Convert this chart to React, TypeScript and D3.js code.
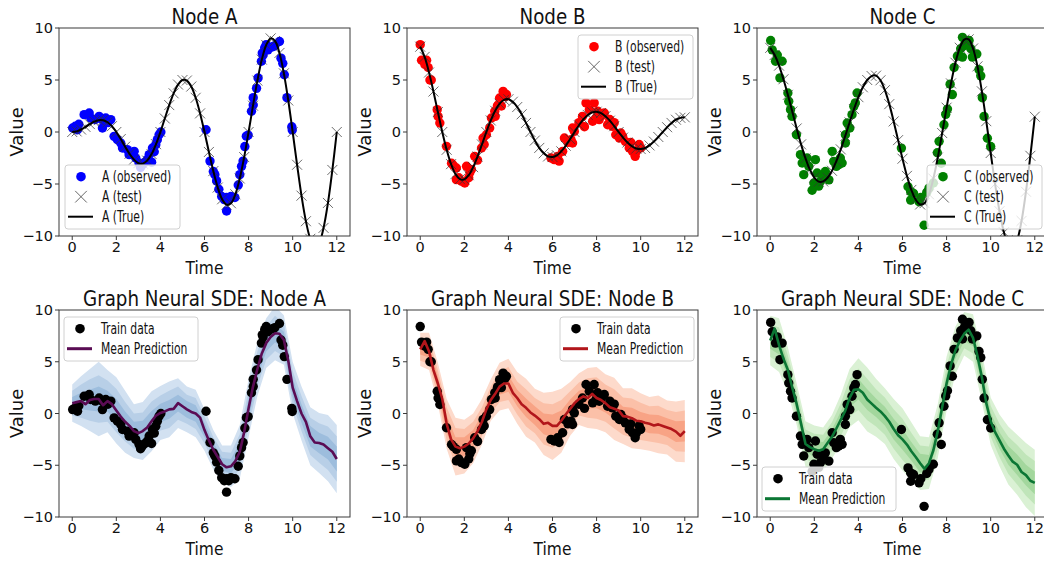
import * as d3 from "d3";

// ---- tick labels / grids ----
const xTicks = [0, 2, 4, 6, 8, 10, 12];
const yTicks = [-10, -5, 0, 5, 10];
const gridTimes = d3.range(0, 12.001, 0.2); // test / prediction grid
const bandTimes = d3.range(0, 12.001, 0.4); // quantile band grid

// ---- true trajectories (read at t = 0, 0.2, ... 12) ----
const trueA = [0, 0.06, 0.24, 0.49, 0.76, 1.0, 1.14, 1.13, 0.94, 0.56, 0, -0.68, -1.41, -2.1, -2.66, -3.0, -3.04, -2.75, -2.12, -1.17, 0, 1.3, 2.59, 3.72, 4.56, 5.0, 4.95, 4.37, 3.29, 1.79, 0, -1.92, -3.76, -5.34, -6.47, -7.0, -6.85, -5.99, -4.47, -2.41, 0, 2.53, 4.94, 6.96, 8.37, 9.0, 8.75, 7.6, 5.64, 3.03, 0, -3.15, -6.12, -8.58, -10.27, -11.0, -10.65, -9.22, -6.82, -3.65, 0];
const trueB = [8.2, 7.22, 5.72, 3.89, 1.92, 0, -1.71, -3.09, -4.05, -4.53, -4.56, -4.15, -3.38, -2.36, -1.2, 0, 1.11, 2.04, 2.72, 3.09, 3.15, 2.91, 2.4, 1.7, 0.87, 0, -0.82, -1.53, -2.05, -2.35, -2.41, -2.24, -1.86, -1.32, -0.68, 0, 0.65, 1.22, 1.64, 1.89, 1.95, 1.82, 1.52, 1.09, 0.56, 0, -0.54, -1.01, -1.37, -1.59, -1.64, -1.54, -1.29, -0.92, -0.48, 0, 0.46, 0.87, 1.18, 1.36, 1.41];
const trueC = [8.09, 7.4, 6.38, 5.07, 3.57, 1.96, 0.34, -1.19, -2.53, -3.62, -4.38, -4.77, -4.75, -4.4, -3.73, -2.8, -1.67, -0.4, 0.92, 2.2, 3.35, 4.3, 5.0, 5.38, 5.42, 4.97, 4.02, 2.68, 1.02, -0.78, -2.57, -4.22, -5.57, -6.51, -6.97, -6.84, -5.99, -4.48, -2.46, -0.1, 2.34, 4.67, 6.66, 8.1, 8.89, 8.91, 8.03, 6.31, 3.91, 1.04, -2.02, -5.0, -7.61, -9.64, -10.88, -11.19, -10.41, -8.55, -5.74, -2.29, 1.47];

// ---- observed (train) points [time, value] ----
const obsA = [
  [0.02, 0.38], [0.14, 0.55], [0.24, 0.22], [0.3, 0.75], [0.54, 1.67], [0.77, 1.83], [0.84, 1.35], [1.05, 1.2], [1.22, 1.5], [1.37, 1.19],
  [1.37, 0.38], [1.52, 1.35], [1.62, 0.9], [1.75, 1.19], [1.9, -0.42], [2.05, -0.74], [2.2, -1.06], [2.28, -1.54], [2.5, -1.7], [2.58, -2.18],
  [2.81, -1.86], [2.88, -2.5], [3.03, -2.98], [3.1, -3.4], [3.18, -3.14], [3.3, -2.9], [3.41, -2.66], [3.49, -2.18], [3.6, -2.9], [3.64, -1.54],
  [3.72, -1.9], [3.79, -1.22], [3.86, -0.74], [3.94, -0.26], [4.02, 0.0],
  [6.07, 0.22], [6.25, -2.8], [6.4, -3.8], [6.47, -4.1], [6.55, -4.7], [6.65, -5.5], [6.78, -6.2], [6.9, -6.5], [7.0, -6.3], [7.0, -7.6],
  [7.1, -6.5], [7.2, -6.2], [7.38, -6.3], [7.53, -5.1], [7.6, -4.1], [7.68, -3.3], [7.75, -2.8], [7.83, -1.4], [7.9, -0.4], [7.98, -0.3],
  [8.13, 2.0], [8.21, 2.6], [8.21, 3.3], [8.36, 4.2], [8.43, 5.2], [8.58, 6.8], [8.62, 7.6], [8.66, 7.4], [8.73, 8.1], [8.8, 8.4],
  [8.88, 7.9], [8.96, 8.1], [9.1, 8.2], [9.19, 8.3], [9.4, 8.7], [9.47, 7.1], [9.55, 6.6], [9.62, 5.5], [9.74, 3.3], [9.96, 0.5], [9.98, 0.2],
];
const obsB = [
  [0.0, 8.4], [0.06, 6.9], [0.21, 6.5], [0.29, 6.9], [0.36, 6.2], [0.44, 5.0], [0.5, 5.0], [0.77, 2.15], [0.81, 1.5], [0.89, 0.87],
  [1.19, -1.38], [1.42, -3.0], [1.5, -3.2], [1.64, -3.46], [1.64, -4.58], [1.75, -4.4], [1.87, -4.74], [2.02, -4.9], [2.1, -3.3], [2.2, -4.4],
  [2.25, -3.9], [2.32, -3.6], [2.47, -2.34], [2.6, -2.7], [2.78, -1.54], [2.85, -0.58], [2.9, -1.2], [3.0, -0.26], [3.15, 0.38], [3.23, 1.35],
  [3.38, 2.0], [3.4, 1.5], [3.5, 2.5], [3.53, 2.6], [3.6, 3.27], [3.68, 2.5], [3.76, 3.9], [3.85, 3.4], [3.91, 3.6],
  [5.93, -2.5], [6.08, -2.66], [6.23, -2.34], [6.3, -2.8], [6.46, -1.86], [6.54, -0.58], [6.7, -1.0], [6.84, -0.74], [6.91, -1.06], [6.91, 0.38],
  [6.99, 0.06], [7.2, 0.9], [7.36, 1.5], [7.45, 0.5], [7.52, 2.8], [7.67, 2.15], [7.82, 1.03], [7.89, 2.8], [7.97, 1.35], [8.05, 2.0],
  [8.12, 1.19], [8.25, 1.6], [8.35, 1.83], [8.5, 0.7], [8.6, 1.2], [8.72, 0.54], [8.8, 0.9], [8.87, -0.26], [9.03, -0.58], [9.1, -0.1],
  [9.18, -0.42], [9.3, -0.9], [9.48, -1.54], [9.55, -1.0], [9.63, -1.86], [9.75, -2.34], [9.8, -1.9], [9.93, -1.2], [10.0, -1.54],
];
const obsC = [
  [0.02, 8.8], [0.09, 7.9], [0.24, 6.8], [0.32, 7.4], [0.44, 5.2], [0.54, 6.8], [0.8, 3.75], [0.84, 2.95], [0.92, 2.15], [0.99, 1.5],
  [1.19, -0.26], [1.37, -2.18], [1.45, -2.98], [1.52, -4.1], [1.67, -2.5], [1.75, -3.3], [1.9, -5.6], [1.98, -4.9], [2.05, -2.66], [2.13, -3.94],
  [2.2, -5.2], [2.28, -4.74], [2.4, -4.2], [2.5, -3.8], [2.66, -4.6], [2.81, -1.86], [2.88, -2.82], [3.0, -3.3], [3.11, -3.14], [3.18, -2.5],
  [3.26, -2.98], [3.41, -1.06], [3.41, -0.26], [3.49, 0.87], [3.61, 0.38], [3.71, 1.67], [3.79, 2.47], [3.86, 2.8], [3.94, 3.75],
  [5.95, -1.55], [6.25, -5.26], [6.37, -5.74], [6.37, -6.55], [6.5, -5.9], [6.75, -6.7], [6.83, -6.3], [6.98, -8.97], [7.1, -5.8], [7.2, -5.4],
  [7.4, -4.9], [7.58, -2.0], [7.66, -0.9], [7.76, -3.0], [7.88, 0.7], [7.96, 1.7], [8.04, 2.2], [8.16, 4.6], [8.26, 3.6], [8.34, 6.2],
  [8.49, 7.3], [8.64, 8.0], [8.72, 9.1], [8.72, 7.2], [8.8, 8.3], [8.87, 8.6], [9.02, 8.8], [9.1, 8.0], [9.17, 7.2], [9.37, 7.5],
  [9.47, 6.0], [9.55, 5.4], [9.62, 3.3], [9.7, 1.5], [9.85, -0.6], [10.0, -1.4],
];

// ---- SDE mean prediction (t = 0, 0.2, ... 12) ----
const meanA = [1.0, 1.1, 1.2, 0.9, 1.3, 1.4, 1.4, 0.8, 1.2, 0.9, 0.3, -0.3, -0.8, -1.2, -1.7, -1.9, -1.7, -1.35, -0.75, -0.2, 0.05, 0.2, 0.4, 0.45, 1.0, 0.7, 0.4, 0.15, 0.0, -0.4, -1.6, -2.6, -3.5, -4.2, -4.9, -5.2, -5.1, -4.6, -3.7, -1.8, 0.5, 2.6, 4.3, 5.8, 6.8, 7.4, 7.75, 7.7, 7.1, 5.1, 2.5, 1.2, 0.0, -0.8, -2.2, -2.8, -2.85, -3.0, -3.35, -3.7, -4.4];
const meanB = [6.2, 7.0, 6.0, 4.2, 2.9, 1.4, -1.0, -2.5, -3.2, -3.35, -3.2, -2.9, -2.4, -1.7, -0.8, 0.4, 1.3, 1.9, 2.6, 2.9, 2.9, 2.0, 1.5, 0.9, 0.55, 0.1, -0.2, -0.55, -1.0, -0.9, -1.2, -1.2, -0.7, -0.1, 0.45, 1.0, 1.4, 1.65, 1.5, 1.9, 1.5, 1.3, 1.0, 0.6, 0.45, 0.3, -0.25, -0.3, -0.45, -0.7, -0.75, -0.9, -1.0, -1.15, -1.05, -1.2, -1.35, -1.5, -1.75, -2.15, -1.7];
const meanC = [7.05, 8.2, 6.6, 5.3, 4.2, 2.5, 0.9, -1.0, -2.95, -3.25, -3.45, -3.6, -3.45, -2.85, -2.25, -1.45, -0.6, 0.25, 1.5, 2.3, 2.35, 2.0, 1.35, 0.95, 0.55, 0.2, -0.25, -0.8, -1.5, -2.1, -2.5, -3.0, -3.65, -4.2, -4.8, -5.35, -4.8, -3.55, -1.7, 0.6, 2.9, 4.7, 6.1, 7.0, 7.7, 8.1, 7.3, 5.55, 3.5, 1.0, -0.75, -1.8, -2.6, -3.4, -4.05, -4.65, -4.95, -5.65, -5.95, -6.5, -6.7];

// ---- band half-widths (t = 0, 0.4, ... 12): outer, middle, inner ----
const outerA = [1.8, 2.4, 3.0, 3.6, 3.0, 3.2, 3.0, 2.6, 2.8, 2.9, 2.6, 2.7, 2.4, 2.2, 2.3, 2.0, 1.9, 1.8, 2.0, 2.6, 2.8, 2.6, 2.4, 2.6, 2.4, 2.5, 2.6, 2.8, 2.9, 3.2, 3.3];
const midA = [1.2, 1.6, 2.0, 2.3, 2.0, 2.1, 1.9, 1.7, 1.8, 1.9, 1.7, 1.8, 1.6, 1.4, 1.5, 1.3, 1.2, 1.2, 1.3, 1.7, 1.8, 1.7, 1.6, 1.7, 1.6, 1.6, 1.7, 1.8, 1.9, 2.1, 2.2];
const innerA = [0.6, 0.8, 1.0, 1.2, 1.0, 1.1, 1.0, 0.9, 1.0, 1.0, 0.9, 0.9, 0.8, 0.8, 0.8, 0.7, 0.7, 0.6, 0.7, 0.9, 1.0, 0.9, 0.8, 0.9, 0.8, 0.9, 0.9, 1.0, 1.0, 1.1, 1.2];
const outerB = [1.6, 1.8, 2.0, 2.4, 2.8, 2.6, 2.4, 2.2, 2.0, 2.3, 2.4, 2.5, 2.8, 2.6, 3.0, 3.3, 3.1, 2.6, 2.5, 2.9, 3.0, 2.8, 3.0, 2.7, 2.9, 2.7, 2.6, 2.8, 2.6, 2.9, 3.0];
const midB = [1.1, 1.2, 1.3, 1.6, 1.8, 1.7, 1.6, 1.4, 1.3, 1.5, 1.6, 1.6, 1.8, 1.7, 2.0, 2.1, 2.0, 1.7, 1.6, 1.9, 2.0, 1.8, 1.9, 1.8, 1.9, 1.8, 1.7, 1.8, 1.7, 1.9, 2.0];
const innerB = [0.5, 0.6, 0.7, 0.8, 0.9, 0.9, 0.8, 0.7, 0.7, 0.8, 0.8, 0.8, 0.9, 0.9, 1.0, 1.1, 1.0, 0.9, 0.8, 1.0, 1.0, 0.9, 1.0, 0.9, 1.0, 0.9, 0.9, 0.9, 0.9, 1.0, 1.0];
const outerC = [2.4, 2.6, 2.2, 2.0, 2.2, 2.3, 2.1, 2.1, 2.4, 2.8, 3.0, 3.1, 2.8, 2.7, 2.9, 3.0, 2.8, 2.6, 2.5, 2.6, 2.6, 2.3, 2.1, 2.3, 2.4, 2.3, 2.5, 2.8, 2.9, 3.1, 3.2];
const midC = [1.6, 1.7, 1.4, 1.3, 1.4, 1.5, 1.4, 1.4, 1.6, 1.8, 2.0, 2.0, 1.8, 1.8, 1.9, 2.0, 1.8, 1.7, 1.6, 1.7, 1.7, 1.5, 1.4, 1.5, 1.6, 1.5, 1.6, 1.8, 1.9, 2.0, 2.1];
const innerC = [0.8, 0.9, 0.7, 0.7, 0.7, 0.8, 0.7, 0.7, 0.8, 0.9, 1.0, 1.0, 0.9, 0.9, 1.0, 1.0, 0.9, 0.9, 0.8, 0.9, 0.9, 0.8, 0.7, 0.8, 0.8, 0.8, 0.8, 0.9, 1.0, 1.0, 1.1];

// ---- layout ----
const COLS = [59, 407, 757];
const PANEL_W = 291;
const ROWS = [
  { top: 28, bottom: 236 },
  { top: 310, bottom: 517 },
];
const FONT = "'DejaVu Sans', sans-serif";
const AXIS_COLOR = "#3a3a3a";

const topPanels = [
  { node: "A", truth: trueA, obs: obsA, color: "#0000ff", legend: [6, 137] },
  { node: "B", truth: trueB, obs: obsB, color: "#ff0000", legend: [171, 7] },
  { node: "C", truth: trueC, obs: obsC, color: "#008000", legend: [170, 137] },
];

const bottomPanels = [
  { node: "A", obs: obsA, mean: meanA, bands: [outerA, midA, innerA], fills: ["#d2e1f1", "#b8cfe7", "#9dbddd"], line: "#5a0c54", legend: [5, 7] },
  { node: "B", obs: obsB, mean: meanB, bands: [outerB, midB, innerB], fills: ["#fddacb", "#fbc0a8", "#f8a385"], line: "#b2161b", legend: [153, 7] },
  { node: "C", obs: obsC, mean: meanC, bands: [outerC, midC, innerC], fills: ["#daf1d4", "#c0e5b9", "#a3d79d"], line: "#0b7634", legend: [5, 157] },
];

const fmt = (v: number) => (v < 0 ? "\u2212" + Math.abs(v) : String(v));
const crossPath = (s: number) => `M${-s},${-s}L${s},${s}M${-s},${s}L${s},${-s}`;

type Entry = { kind: "dot" | "cross" | "line"; color: string; label: string };

const Legend = ({ x, y, w, entries }: { x: number; y: number; w: number; entries: Entry[] }) => {
  const h = entries.length * 20 + 4;
  return (
    <g>
      <rect x={x} y={y} width={w} height={h} rx={3} fill="white" fillOpacity={0.8} stroke="#d0d0d0" strokeWidth={1} />
      {entries.map((e, i) => {
        const cy = y + 11.7 + i * 20;
        return (
          <g key={i}>
            {e.kind === "dot" && <circle cx={x + 16} cy={cy} r={4.8} fill={e.color} />}
            {e.kind === "cross" && (
              <path d={crossPath(5.8)} transform={`translate(${x + 16},${cy})`} stroke="#555" strokeWidth={0.9} fill="none" />
            )}
            {e.kind === "line" && <line x1={x + 3} x2={x + 28} y1={cy} y2={cy} stroke={e.color} strokeWidth={e.color === "black" ? 2 : 3} />}
            <text transform={`translate(${x + 37},${cy + 5.5}) scale(0.72,1)`} fontSize={15} fill="#111">
              {e.label}
            </text>
          </g>
        );
      })}
    </g>
  );
};

const Axes = ({ col, row, title, id, children, legend }: any) => {
  const left = COLS[col];
  const { top, bottom } = ROWS[row];
  const x = d3.scaleLinear().domain([-0.6, 12.6]).range([left, left + PANEL_W]);
  const y = d3.scaleLinear().domain([-10, 10]).range([bottom, top]);
  const cx = left + PANEL_W / 2;
  return (
    <g>
      <defs>
        <clipPath id={id}>
          <rect x={left} y={top} width={PANEL_W} height={bottom - top} />
        </clipPath>
      </defs>
      <g clipPath={`url(#${id})`}>{children(x, y)}</g>
      <rect x={left} y={top} width={PANEL_W} height={bottom - top} fill="none" stroke={AXIS_COLOR} strokeWidth={1} />
      {xTicks.map((t) => (
        <g key={"x" + t}>
          <line x1={x(t)} x2={x(t)} y1={bottom} y2={bottom + 4} stroke={AXIS_COLOR} />
          <text x={x(t)} y={bottom + 16} textAnchor="middle" fontSize={14.5} fill="#111">
            {fmt(t)}
          </text>
        </g>
      ))}
      {yTicks.map((v) => (
        <g key={"y" + v}>
          <line x1={left - 4} x2={left} y1={y(v)} y2={y(v)} stroke={AXIS_COLOR} />
          <text x={left - 6} y={y(v) + 5} textAnchor="end" fontSize={14.5} fill="#111">
            {fmt(v)}
          </text>
        </g>
      ))}
      <text transform={`translate(${cx},${bottom + 38}) scale(0.86,1)`} textAnchor="middle" fontSize={18} fill="#111">
        Time
      </text>
      <text transform={`translate(${left - 36},${(top + bottom) / 2}) rotate(-90)`} textAnchor="middle" fontSize={18} fill="#111">
        Value
      </text>
      <text transform={`translate(${cx},${top - 4}) scale(0.87,1)`} textAnchor="middle" fontSize={21} fill="#111">
        {title}
      </text>
      {legend && legend(left, top)}
    </g>
  );
};

export default function App() {
  const trueLine = (x: any, y: any) =>
    d3
      .line<number>()
      .x((_, i) => x(gridTimes[i]))
      .y((v) => y(v))
      .curve(d3.curveCatmullRom);
  const meanLine = (x: any, y: any) =>
    d3
      .line<number>()
      .x((_, i) => x(gridTimes[i]))
      .y((v) => y(v));

  return (
    <svg width={1044} height={562} style={{ position: "absolute", left: 0, top: 0, background: "white" }} fontFamily={FONT}>
      {topPanels.map((p, c) => (
        <Axes
          key={"t" + p.node}
          col={c}
          row={0}
          id={"clipTop" + p.node}
          title={`Node ${p.node}`}
          legend={(left: number, top: number) => (
            <Legend
              x={left + p.legend[0]}
              y={top + p.legend[1]}
              w={115}
              entries={[
                { kind: "dot", color: p.color, label: `${p.node} (observed)` },
                { kind: "cross", color: "#555", label: `${p.node} (test)` },
                { kind: "line", color: "black", label: `${p.node} (True)` },
              ]}
            />
          )}
        >
          {(x: any, y: any) => (
            <g>
              {p.obs.map((d, i) => (
                <circle key={i} cx={x(d[0])} cy={y(d[1])} r={4.7} fill={p.color} />
              ))}
              {p.truth.map((v, i) => (
                <path
                  key={"c" + i}
                  d={crossPath(5)}
                  transform={`translate(${x(gridTimes[i])},${y(v)})`}
                  stroke="#333"
                  strokeOpacity={0.8}
                  strokeWidth={0.9}
                  fill="none"
                />
              ))}
              <path d={trueLine(x, y)(p.truth) || ""} fill="none" stroke="black" strokeWidth={2} />
            </g>
          )}
        </Axes>
      ))}
      {bottomPanels.map((p, c) => (
        <Axes
          key={"b" + p.node}
          col={c}
          row={1}
          id={"clipBot" + p.node}
          title={`Graph Neural SDE: Node ${p.node}`}
          legend={(left: number, top: number) => (
            <Legend
              x={left + p.legend[0]}
              y={top + p.legend[1]}
              w={134}
              entries={[
                { kind: "dot", color: "black", label: "Train data" },
                { kind: "line", color: p.line, label: "Mean Prediction" },
              ]}
            />
          )}
        >
          {(x: any, y: any) => (
            <g>
              {p.bands.map((widths, b) => {
                const area = d3
                  .area<number>()
                  .x((_, i) => x(bandTimes[i]))
                  .y0((w, i) => y(p.mean[i * 2] - w))
                  .y1((w, i) => y(p.mean[i * 2] + w));
                return <path key={"band" + b} d={area(widths) || ""} fill={p.fills[b]} stroke="none" />;
              })}
              {p.obs.map((d, i) => (
                <circle key={i} cx={x(d[0])} cy={y(d[1])} r={4.7} fill="black" />
              ))}
              <path d={meanLine(x, y)(p.mean) || ""} fill="none" stroke={p.line} strokeWidth={2.6} strokeLinejoin="round" />
            </g>
          )}
        </Axes>
      ))}
    </svg>
  );
}
